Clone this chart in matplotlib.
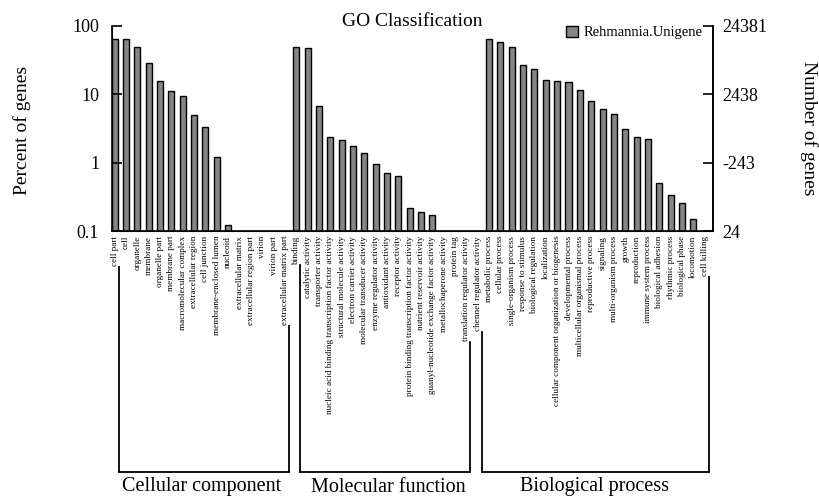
import matplotlib
matplotlib.use("Agg")
import matplotlib.pyplot as plt
from matplotlib.lines import Line2D
import numpy as np

plt.rcParams['font.family'] = ['Liberation Serif', 'DejaVu Serif']

# ---- data ----
cc_terms = ["cell part", "cell", "organelle", "membrane", "organelle part", "membrane part",
            "macromolecular complex", "extracellular region", "cell junction",
            "membrane-enclosed lumen", "nucleoid", "extracellular matrix",
            "extracellular region part", "virion", "virion part", "extracellular matrix part"]
cc_values = [64, 64, 50, 28.5, 15.9, 11.2, 9.4, 4.9, 3.3, 1.21, 0.123, 0, 0, 0, 0, 0]

mf_terms = ["binding", "catalytic activity", "transporter activity",
            "nucleic acid binding transcription factor activity", "structural molecule activity",
            "electron carrier activity", "molecular transducer activity", "enzyme regulator activity",
            "antioxidant activity", "receptor activity",
            "protein binding transcription factor activity", "nutrient reservoir activity",
            "guanyl-nucleotide exchange factor activity", "metallochaperone activity",
            "protein tag", "translation regulator activity", "chennel regulator activity"]
mf_values = [50, 48.3, 6.8, 2.34, 2.12, 1.75, 1.38, 0.95, 0.70, 0.646, 0.218, 0.186, 0.172,
             0, 0, 0, 0]

bp_terms = ["metabolic process", "cellular process", "single-organism process",
            "response to stimulus", "biological regulation", "localization",
            "cellular component organization or biogenesis", "developmental process",
            "multicellular organismal process", "reproductive process", "signaling",
            "multi-organism process", "growth", "reproduction", "immune system process",
            "biological adhesion", "rhythmic process", "biological phase", "locomotion",
            "cell killing"]
bp_values = [64, 59, 50, 27.2, 23.3, 16.3, 15.6, 15.2, 11.4, 8.1, 6.2, 5.2, 3.06, 2.34, 2.19,
             0.50, 0.34, 0.26, 0.149, 0]

left_ticks = [0.1, 1, 10, 100]
left_tick_labels = ["0.1", "1", "10", "100"]
right_tick_labels = ["24", "-243", "2438", "24381"]

# bracket groups as drawn in the figure (first index, last index, label)
groups = [("Cellular component", 0, 15),
          ("Molecular function", 16, 31),
          ("Biological process", 32, 52)]

series_name = "Rehmannia.Unigene"

terms = cc_terms + mf_terms + bp_terms
values = cc_values + mf_values + bp_values
# zero values are placed below the visible log range
plot_vals = [v if v > 0 else 0.01 for v in values]

W, H = 820, 500
fig = plt.figure(figsize=(W / 100, H / 100), dpi=100)
ax = fig.add_axes([111.7 / W, 1 - 231 / H, 601 / W, 205 / H])

x = np.arange(len(terms))
bars = ax.bar(x, plot_vals, width=0.53, color="#858585", edgecolor="black",
              linewidth=1.0, label=series_name, bottom=0.001)
ax.set_yscale("log")
ax.set_ylim(0.1, 100)
ax.set_xlim(-0.265, len(terms) - 1 + 0.71)

ax.set_yticks(left_ticks)
ax.set_yticklabels(left_tick_labels)
ax.yaxis.set_minor_locator(matplotlib.ticker.NullLocator())
ax.tick_params(axis="y", direction="in", length=7, width=1.2, labelsize=13, pad=9)
ax.set_xticks(x)
ax.set_xticklabels(terms, rotation=90, fontsize=6.6, va="top", ha="center")
ax.tick_params(axis="x", length=0, pad=3.5)

for s in ["left", "bottom", "right"]:
    ax.spines[s].set_linewidth(1.2)
ax.spines["top"].set_visible(False)

ax2 = ax.twinx()
ax2.set_yscale("log")
ax2.set_ylim(0.1, 100)
ax2.set_yticks(left_ticks)
ax2.set_yticklabels(right_tick_labels)
ax2.yaxis.set_minor_locator(matplotlib.ticker.NullLocator())
ax2.tick_params(axis="y", direction="in", length=7, width=1.2, labelsize=13, pad=7)
ax2.spines["top"].set_visible(False)
ax2.spines["right"].set_linewidth(1.2)

fig.text(22 / W, 1 - 130 / H, "Percent of genes", rotation=90, fontsize=14,
         ha="center", va="center")
fig.text(809 / W, 1 - 128 / H, "Number of genes", rotation=270, fontsize=14,
         ha="center", va="center")
fig.text(412 / W, 1 - 21 / H, "GO Classification", fontsize=14, ha="center", va="center")

fig.legend(handles=[bars], labels=[series_name], loc="center left",
           bbox_to_anchor=(566 / W, 1 - 32.5 / H), frameon=False, fontsize=10.5,
           handlelength=0.85, handleheight=0.8, handletextpad=0.35, borderpad=0,
           borderaxespad=0)

# brackets under the category labels
fig.canvas.draw()
renderer = fig.canvas.get_renderer()
labels = ax.get_xticklabels()
y_line = H - 471.7
for name, i0, i1 in groups:
    pts = []
    for i in (i0, i1):
        bb = labels[i].get_window_extent(renderer)
        xd = ax.transData.transform((x[i], 1))[0] + 4
        pts.append((xd, bb.y0 - 1))
    for xd, yb in pts:
        fig.add_artist(Line2D([xd / W, xd / W], [yb / H, y_line / H], color="black",
                              linewidth=1.3, transform=fig.transFigure))
    fig.add_artist(Line2D([pts[0][0] / W, pts[1][0] / W], [y_line / H, y_line / H],
                          color="black", linewidth=1.3, transform=fig.transFigure,
                          solid_capstyle="projecting"))

label_centers = [202, 388, 595]
for (name, i0, i1), cx in zip(groups, label_centers):
    fig.text(cx / W, 1 - 487 / H, name, fontsize=14.5, ha="center", va="center")

fig.savefig("out.png", dpi=100)
